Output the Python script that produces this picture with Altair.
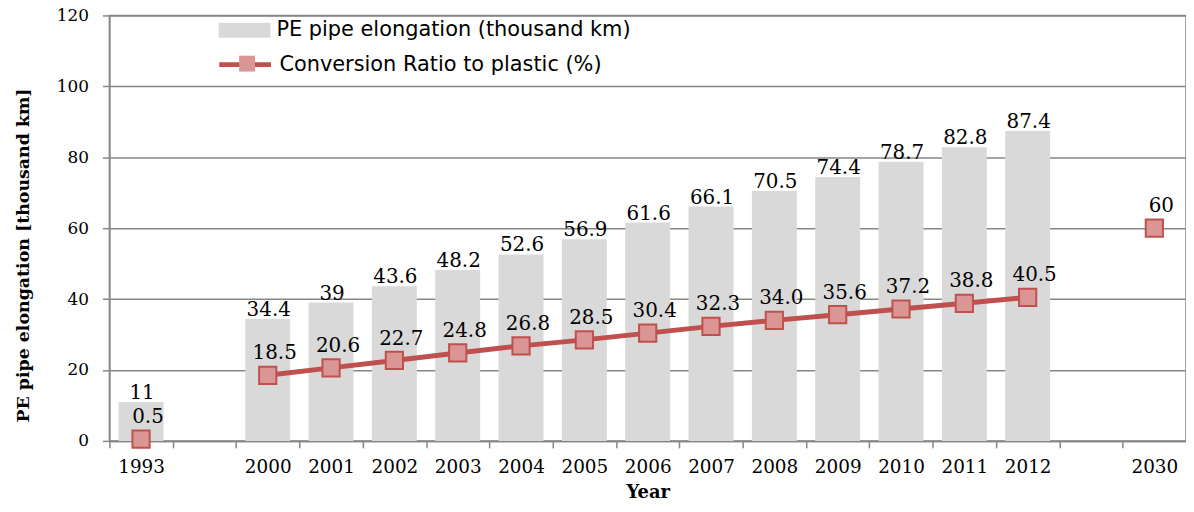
import altair as alt
import pandas as pd

categories = ["1993", " ", "2000", "2001", "2002", "2003", "2004", "2005", "2006",
              "2007", "2008", "2009", "2010", "2011", "2012", "  ", "2030"]
years = ["1993", "2000", "2001", "2002", "2003", "2004", "2005", "2006",
         "2007", "2008", "2009", "2010", "2011", "2012", "2030"]
pe_length = [11, 34.4, 39, 43.6, 48.2, 52.6, 56.9, 61.6, 66.1, 70.5, 74.4, 78.7, 82.8, 87.4, None]
pe_labels = ["11", "34.4", "39", "43.6", "48.2", "52.6", "56.9", "61.6", "66.1", "70.5",
             "74.4", "78.7", "82.8", "87.4", ""]
ratio = [0.5, 18.5, 20.6, 22.7, 24.8, 26.8, 28.5, 30.4, 32.3, 34.0, 35.6, 37.2, 38.8, 40.5, 60]
ratio_labels = ["0.5", "18.5", "20.6", "22.7", "24.8", "26.8", "28.5", "30.4", "32.3",
                "34.0", "35.6", "37.2", "38.8", "40.5", "60"]
line_years = ["2000", "2001", "2002", "2003", "2004", "2005", "2006", "2007",
              "2008", "2009", "2010", "2011", "2012"]

BAR_NAME = "PE pipe elongation (thousand km)"
LINE_NAME = "Conversion Ratio to plastic (%)"

df = pd.DataFrame({"year": years, "pe": pe_length, "plabel": pe_labels,
                   "ratio": ratio, "rlabel": ratio_labels})
df["s1"] = BAR_NAME
df["s2"] = LINE_NAME
df["s3"] = LINE_NAME
bars_df = df[df["pe"].notna()]
line_df = df[df["year"].isin(line_years)]

SERIF = "DejaVu Serif"
RED = "#c0504d"
PINK = "#d99694"
GRAY = "#d9d9d9"
AX = "#868686"

W = 1083
H = 428
STEP = W / len(categories)

x_scale = alt.Scale(domain=categories, paddingInner=0.29, paddingOuter=0.145)
y_scale = alt.Scale(domain=[0, 120])

x_enc = alt.X("year:N", scale=x_scale,
              axis=alt.Axis(title="Year", labelAngle=0, tickOffset=-STEP / 2,
                            labelOffset=STEP / 2, titlePadding=7))
y_enc = alt.Y("pe:Q", scale=y_scale,
              axis=alt.Axis(title="PE pipe elongation [thousand km]",
                            values=[0, 20, 40, 60, 80, 100, 120],
                            titleX=-86, titleY=241, titleAngle=-90,
                            titleBaseline="middle", titleAlign="center"))

bars = alt.Chart(bars_df).mark_bar(color=GRAY).encode(
    x=x_enc, y=y_enc,
    fill=alt.Fill("s1:N", scale=alt.Scale(range=[GRAY]),
                  legend=alt.Legend(title=None, orient="none", legendX=110, legendY=-11,
                                    symbolType="M-1,-0.29L1,-0.29L1,0.29L-1,0.29Z",
                                    symbolSize=2704, symbolStrokeWidth=0, labelOffset=6,
                                    labelLimit=600, padding=0)),
)

bar_text = alt.Chart(bars_df).mark_text(font=SERIF, fontSize=20, dy=-3, dx=1,
                                        baseline="alphabetic", color="black").encode(
    x=alt.X("year:N", scale=x_scale),
    y=alt.Y("pe:Q", scale=y_scale),
    text="plabel:N",
)

line = alt.Chart(line_df).mark_line(strokeWidth=5).encode(
    x=alt.X("year:N", scale=x_scale),
    y=alt.Y("ratio:Q", scale=y_scale),
    stroke=alt.Stroke("s2:N", scale=alt.Scale(range=[RED]),
                      legend=alt.Legend(title=None, orient="none", legendX=108, legendY=21,
                                        symbolType="stroke", symbolSize=2704,
                                        symbolStrokeWidth=5, symbolStrokeColor=RED,
                                        labelOffset=6, labelLimit=600, padding=0)),
)

points = alt.Chart(df).mark_point(filled=True, fill=PINK, stroke=RED, strokeWidth=2,
                                  size=300, opacity=1).encode(
    x=alt.X("year:N", scale=x_scale),
    y=alt.Y("ratio:Q", scale=y_scale),
    shape=alt.Shape("s3:N", scale=alt.Scale(range=["square"]),
                    legend=alt.Legend(title=None, orient="none", legendX=128, legendY=38,
                                      symbolSize=256, symbolFillColor=PINK,
                                      symbolStrokeColor=RED, symbolStrokeWidth=2,
                                      symbolOpacity=1, labelExpr="''", padding=0)),
)

point_text = alt.Chart(df).mark_text(font=SERIF, fontSize=20, dy=-16, dx=7,
                                     baseline="alphabetic", color="black").encode(
    x=alt.X("year:N", scale=x_scale),
    y=alt.Y("ratio:Q", scale=y_scale),
    text="rlabel:N",
)

chart = alt.layer(bars, bar_text, line, points, point_text).properties(
    width=W, height=H,
    autosize=alt.AutoSizeParams(type="none"),
    padding={"left": 102, "top": 6, "right": 0, "bottom": 62},
).configure_view(stroke=AX, strokeWidth=1.5).configure_axis(
    labelFont=SERIF, labelFontSize=18.5, labelColor="black",
    titleFont=SERIF, titleFontSize=17.5, titleFontWeight="bold", titleColor="black",
    domainColor=AX, domainWidth=1.5, tickColor=AX, tickWidth=1.5, tickSize=7,
    gridColor=AX, gridWidth=1.5,
).configure_axisX(grid=False, labelPadding=10, titleFontSize=18).configure_axisY(
    labelPadding=14, labelFontSize=17, grid=True
).configure_legend(labelFont="DejaVu Sans", labelFontSize=21, labelColor="black")

chart.save("out.html", embed_options={"renderer": "svg", "actions": False})
